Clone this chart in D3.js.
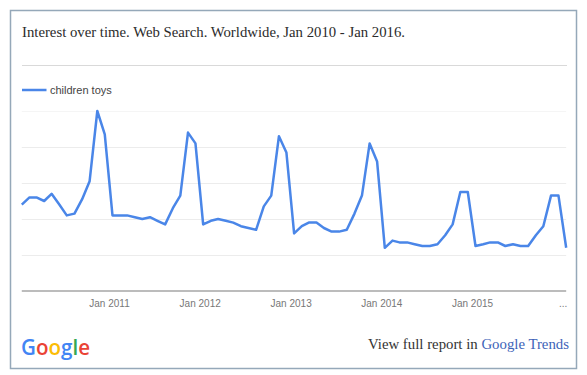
<!DOCTYPE html>
<html>
<head>
<meta charset="utf-8">
<script src="https://cdn.jsdelivr.net/npm/d3@7"></script>
<style>
  body { margin: 0; background: #fff; }
  svg { display: block; }
</style>
</head>
<body>
<div id="chart"></div>
<script>
// --- Data ---
const seriesName = "children toys";
const title = "Interest over time. Web Search. Worldwide, Jan 2010 - Jan 2016.";

// monthly interest, Jan 2010 .. Jan 2016 (73 points)
const interest = [
  48, 52, 52, 50, 54, 48, 42, 43, 51, 61, 100, 87,
  42, 42, 42, 41, 40, 41, 39, 37, 46, 53, 88, 82,
  37, 39, 40, 39, 38, 36, 35, 34, 47, 53, 86, 77,
  32, 36, 38, 38, 35, 33, 33, 34, 43, 53, 82, 72,
  24, 28, 27, 27, 26, 25, 25, 26, 31, 37, 55, 55,
  25, 26, 27, 27, 25, 26, 25, 25, 31, 36, 53, 53,
  24
];

const tickYears = [2011, 2012, 2013, 2014, 2015, 2016];
const gridValues = [20, 40, 60, 80, 100];

// points sit mid-month
const months = interest.map((v, i) => new Date(2010, i, 15));

// --- SVG setup ---
const width = 587, height = 375;

const svg = d3.select("#chart").append("svg")
  .attr("width", width)
  .attr("height", height);

// frame
svg.append("rect")
  .attr("x", 10.5).attr("y", 10.5)
  .attr("width", 566).attr("height", 358)
  .attr("fill", "#fff")
  .attr("stroke", "#95a8b9")
  .attr("stroke-width", 1.5);

// title
svg.append("text")
  .attr("x", 22).attr("y", 37)
  .attr("font-family", "'Liberation Serif', 'DejaVu Serif', serif")
  .attr("font-size", 14)
  .attr("fill", "#2b2b2b")
  .attr("textLength", 383)
  .attr("lengthAdjust", "spacingAndGlyphs")
  .text(title);

// separator
svg.append("line")
  .attr("x1", 22).attr("x2", 567)
  .attr("y1", 65.5).attr("y2", 65.5)
  .attr("stroke", "#d9d9d9")
  .attr("stroke-width", 1);

// --- Scales ---
const x = d3.scaleTime()
  .domain([new Date(2010, 0, 1), new Date(2016, 0, 1)])
  .range([18.3, 562.7]);

const y = d3.scaleLinear()
  .domain([0, 100])
  .range([291, 111]);

const x0 = x(months[0]), x1 = x(months[months.length - 1]);

// --- Grid ---
svg.append("g")
  .selectAll("line")
  .data(gridValues)
  .join("line")
  .attr("x1", x0).attr("x2", x1)
  .attr("y1", d => Math.round(y(d)) + 0.5)
  .attr("y2", d => Math.round(y(d)) + 0.5)
  .attr("stroke", d => d === 100 ? "#f5f5f5" : "#ececec")
  .attr("stroke-width", 1);

// baseline
svg.append("line")
  .attr("x1", x0).attr("x2", x1)
  .attr("y1", y(0)).attr("y2", y(0))
  .attr("stroke", "#a6a6a6")
  .attr("stroke-width", 1.5);

// --- X axis ---
const xAxis = d3.axisBottom(x)
  .tickValues(tickYears.map(yr => new Date(yr, 0, 1)))
  .tickSize(0)
  .tickPadding(0)
  .tickFormat(d => d.getFullYear() < 2016 ? "Jan " + d.getFullYear() : "...");

const gx = svg.append("g")
  .attr("transform", `translate(0,${y(0) + 9})`)
  .call(xAxis);

gx.select(".domain").remove();
gx.selectAll("text")
  .attr("font-family", "'Liberation Sans', Arial, sans-serif")
  .attr("font-size", 10)
  .attr("fill", "#777");

// --- Line ---
const line = d3.line()
  .x((d, i) => x(months[i]))
  .y(d => y(d));

svg.append("path")
  .datum(interest)
  .attr("d", line)
  .attr("fill", "none")
  .attr("stroke", "#4a86e8")
  .attr("stroke-width", 2.5)
  .attr("stroke-linejoin", "round");

// --- Legend ---
svg.append("line")
  .attr("x1", 22).attr("x2", 46.5)
  .attr("y1", 90).attr("y2", 90)
  .attr("stroke", "#4a86e8")
  .attr("stroke-width", 2.5);

svg.append("text")
  .attr("x", 50).attr("y", 93.5)
  .attr("font-family", "'Liberation Sans', Arial, sans-serif")
  .attr("font-size", 11)
  .attr("fill", "#444")
  .text(seriesName);

// --- Footer: Google logo ---
const logoLetters = [
  { ch: "G", color: "#4285f4" },
  { ch: "o", color: "#ea4335" },
  { ch: "o", color: "#fbbc05" },
  { ch: "g", color: "#4285f4" },
  { ch: "l", color: "#34a853" },
  { ch: "e", color: "#ea4335" }
];

const logo = svg.append("text")
  .attr("x", 21).attr("y", 355)
  .attr("font-family", "'Open Sans', Roboto, sans-serif")
  .attr("font-size", 21)
  .attr("font-weight", 600)
  .attr("textLength", 69)
  .attr("lengthAdjust", "spacingAndGlyphs");

logo.selectAll("tspan")
  .data(logoLetters)
  .join("tspan")
  .attr("fill", d => d.color)
  .text(d => d.ch);

// --- Footer: report link ---
const footer = svg.append("text")
  .attr("x", 368).attr("y", 349)
  .attr("font-family", "'Liberation Serif', 'DejaVu Serif', serif")
  .attr("font-size", 14)
  .attr("textLength", 201)
  .attr("lengthAdjust", "spacingAndGlyphs");

footer.append("tspan").attr("fill", "#333").text("View full report in ");
footer.append("tspan").attr("fill", "#3d63b8").text("Google Trends");
</script>
</body>
</html>
